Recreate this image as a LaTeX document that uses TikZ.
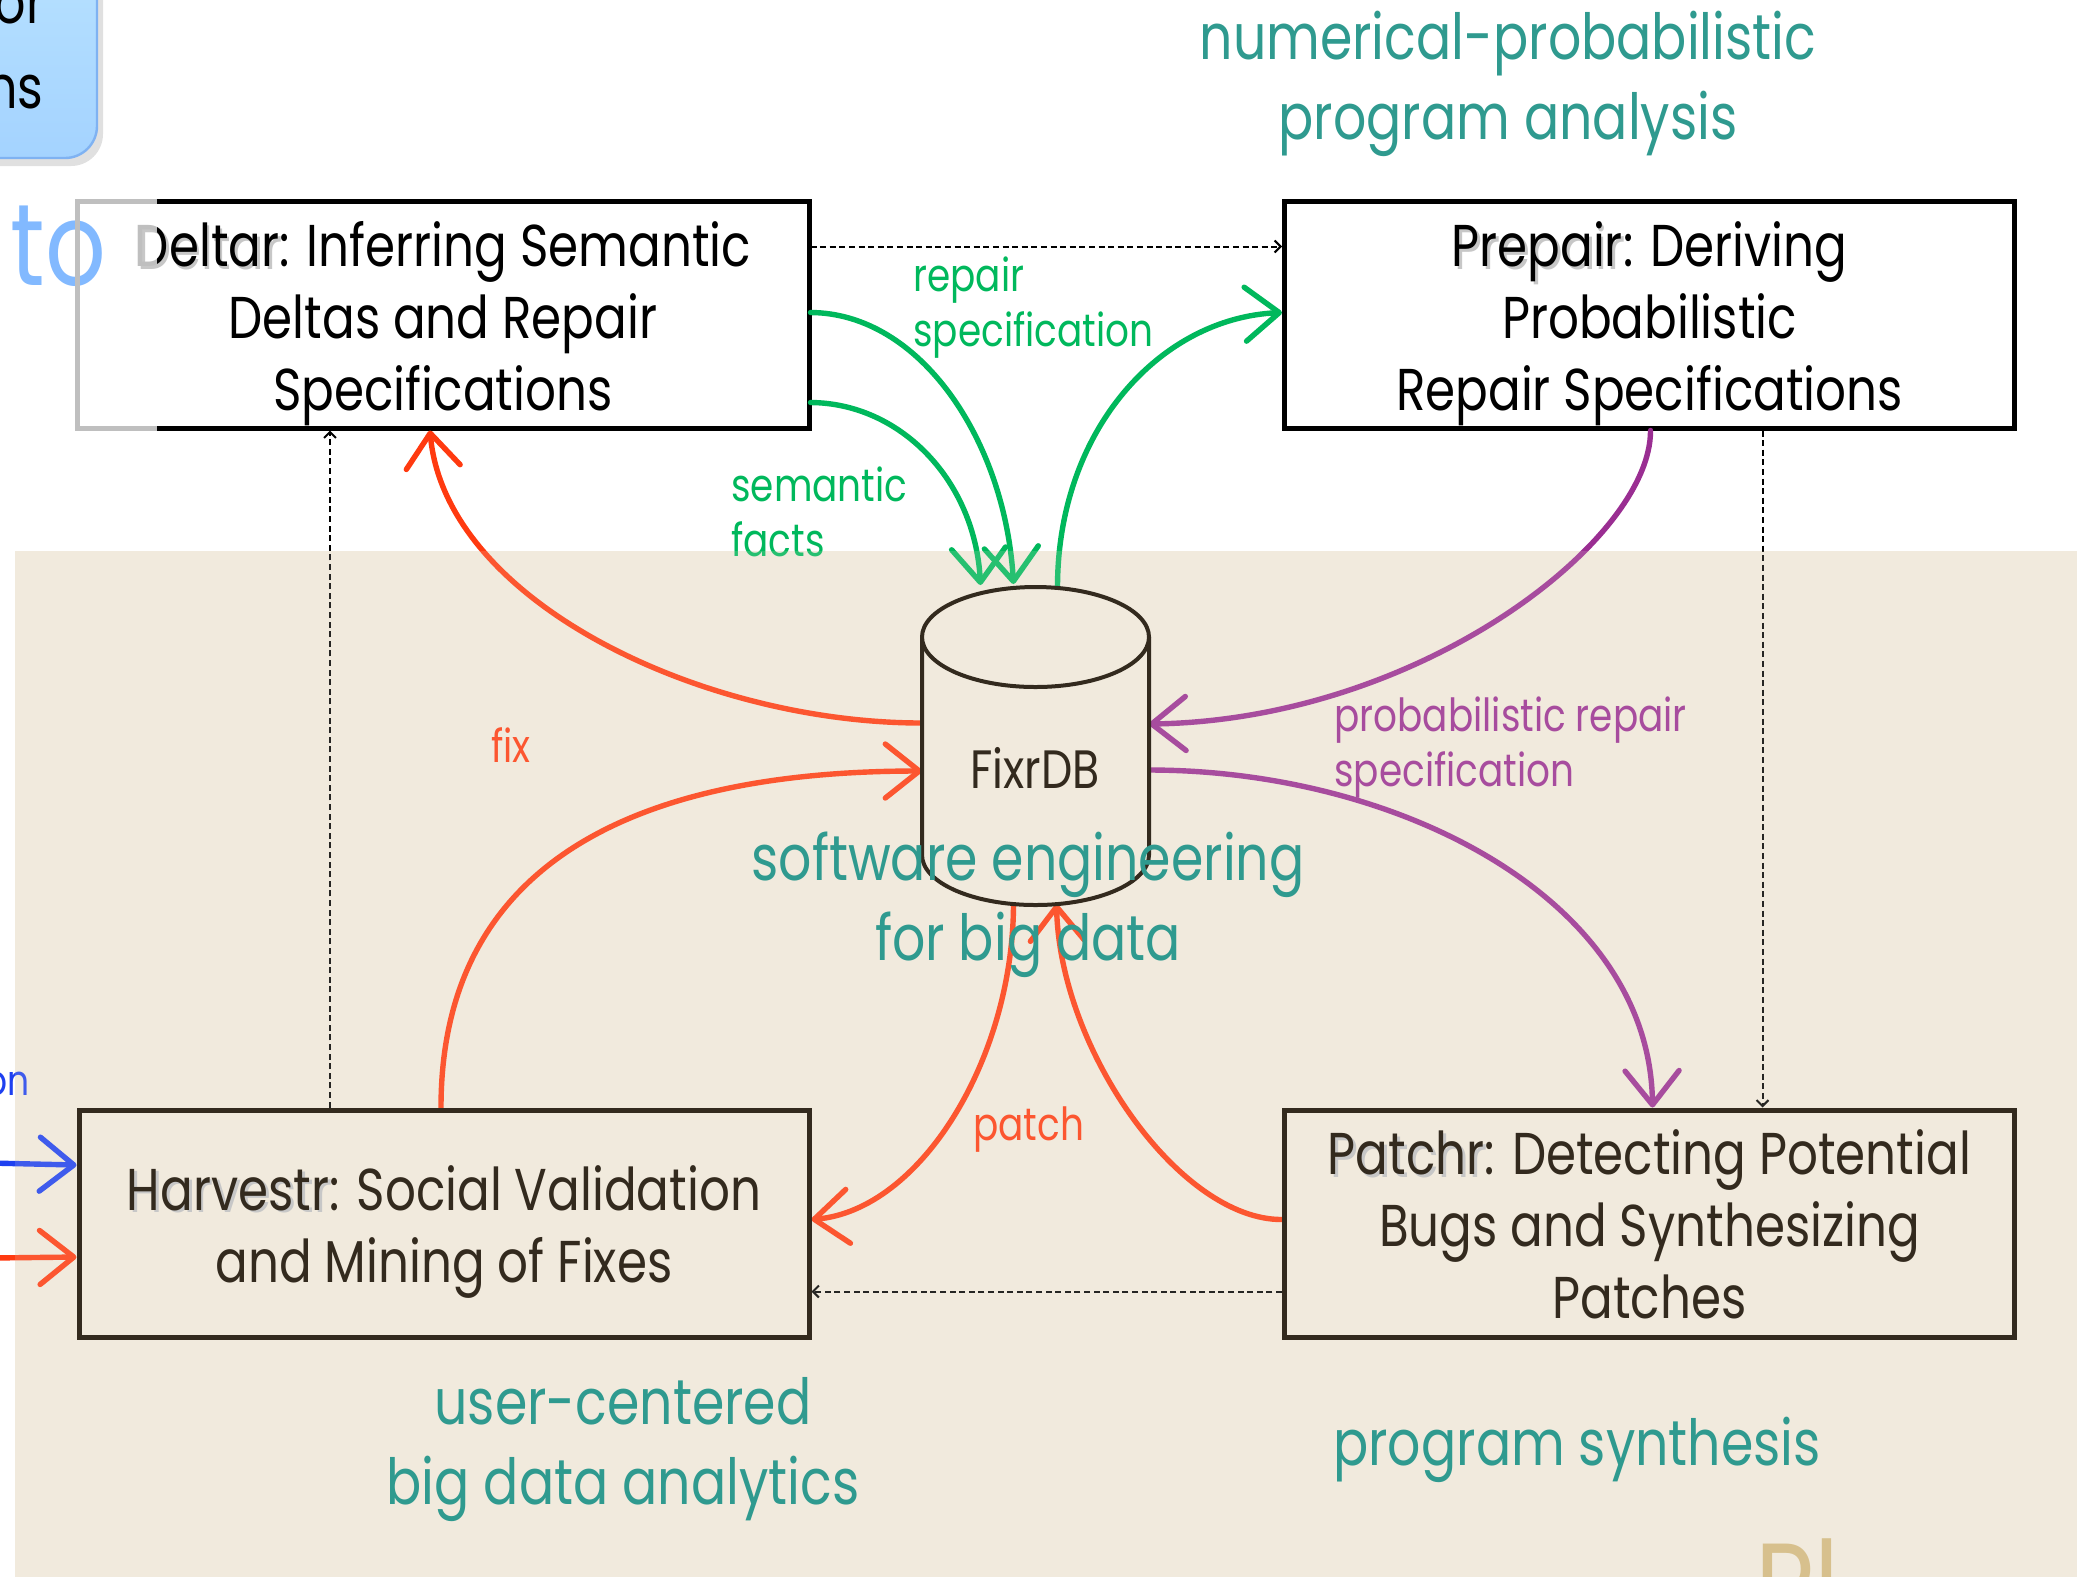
\documentclass[tikz,border=0pt]{standalone}
\usepackage{fontspec}
\setmainfont{Poppins}[FakeStretch=0.82]
\usetikzlibrary{arrows.meta,calc}
\definecolor{sand}{HTML}{F1EADD}
\definecolor{ink}{HTML}{332A1E}
\definecolor{fixred}{HTML}{FF3A10}
\definecolor{factgreen}{HTML}{00B85C}
\definecolor{probpurple}{HTML}{9A2E92}
\definecolor{topicteal}{HTML}{2F9A8F}
\definecolor{skyblue}{HTML}{82B9FF}
\definecolor{tanlabel}{HTML}{D3B97E}
\definecolor{linkblue}{HTML}{1E40F0}
\definecolor{paneltop}{HTML}{BCE5FF}
\definecolor{panelbot}{HTML}{A4D3FF}
\definecolor{paneledge}{HTML}{7FB2F2}
\newcommand\setsz[2]{\fontsize{#1}{#2}\selectfont}
% tool name with a soft drop shadow
\newcommand\toolname[1]{\makebox[0pt][l]{\hspace{1.4pt}\raisebox{-1.4pt}{\textcolor{black!22}{#1}}}#1}
\begin{document}
\begin{tikzpicture}[x=0.5pt,y=-0.5pt,
  box/.style={line width=2.5pt, minimum width=365pt, minimum height=113.5pt, inner sep=0pt},
  boxtext/.style={align=center, font=\setsz{29.5}{36}, inner sep=0pt},
  flow/.style={line width=2.7pt, line cap=round,
    -{Straight Barb[length=17pt,width=27pt,round]}},
  dashlink/.style={line width=1pt, dash pattern=on 3pt off 1.8pt,
    -{Straight Barb[length=3pt,width=6pt]}},
  edgelabel/.style={align=left, anchor=base west, inner sep=0pt, font=\setsz{22.8}{27.5}},
  topic/.style={align=center, anchor=base, text=topicteal, font=\setsz{31.8}{40}},
]
\useasboundingbox (0,0) rectangle (2096,1576);
\clip (0,0) rectangle (2096,1576);
\fill[white] (0,0) rectangle (2096,1576);
\fill[sand] (15,551) rectangle (2077,1600);

% corner of the neighbouring panel
\fill[black!12, rounded corners=16pt] (-100,-100) rectangle (103,166);
\shade[top color=paneltop, bottom color=panelbot, draw=paneledge, line width=1.2pt,
  rounded corners=16pt] (-100,-100) rectangle (97,158);
\node[anchor=base east, inner sep=0pt, font=\setsz{30}{36}] (panelA) at (45,23) {or};
\node[anchor=base east, inner sep=0pt, font=\setsz{30}{36}] (panelB) at (44,108) {ns};
\node[anchor=base west, text=skyblue, font=\setsz{58}{64}, inner sep=0pt] (towd) at (10,285) {to};
\node[anchor=base east, text=linkblue, font=\setsz{21}{27}, inner sep=0pt] (onwd) at (30,1095) {on};
\node[anchor=base west, text=tanlabel, font=\setsz{62}{70}, inner sep=0pt] (plwd) at (1755,1630) {Pl};

% Deltar: grey frame and grey text left of x=157, black from there on
\node[box] (deltar) at (443,314.5) {};
\draw[line width=2.5pt, black!25] (77,201) rectangle (809,428);
\begin{scope}
  \clip (0,0) rectangle (157,1576);
  \node[boxtext, text=black!25] (deltarghost) at ($(deltar.center)+(0,9)$) {\toolname{Deltar}: Inferring Semantic\\Deltas and Repair\\Specifications};
\end{scope}
\begin{scope}
  \clip (157,0) rectangle (2096,1576);
  \node[boxtext, text=black] (deltartext) at ($(deltar.center)+(0,9)$) {\toolname{Deltar}: Inferring Semantic\\Deltas and Repair\\Specifications};
\end{scope}
\draw[line width=2.5pt, black] (157,201) -- (809,201) -- (809,428) -- (157,428);

\node[box, draw=black] (prepair) at (1649.5,314.5) {};
\node[boxtext, text=black] (prepairtext) at ($(prepair.center)+(0,9.5)$) {\toolname{Prepair}: Deriving\\Probabilistic\\Repair Specifications};
\node[box] (harvestr) at (444,1223.5) {};
\node[box] (patchr) at (1649.5,1223.5) {};

% FixrDB anchor frame and ports on the cylinder
\node[minimum width=113.5pt, minimum height=159pt, inner sep=0pt] (db) at (1035.5,746) {};
\coordinate (dbTopA) at ($(db.center)+(-55,-161)$);
\coordinate (dbTopB) at ($(db.center)+(-22,-162)$);
\coordinate (dbTopC) at ($(db.center)+(22,-160)$);
\coordinate (dbLeftA) at ($(db.center)+(-113.5,-23)$);
\coordinate (dbLeftB) at ($(db.center)+(-113.5,25)$);
\coordinate (dbRightA) at ($(db.center)+(113.5,-22)$);
\coordinate (dbRightB) at ($(db.center)+(113.5,24)$);
\coordinate (dbBotA) at ($(db.center)+(-22,158)$);
\coordinate (dbBotB) at ($(db.center)+(21,158)$);

% dashed dependencies
\draw[dashlink, black] ($(deltar.east)+(0,-68)$) -- ($(prepair.west)+(0,-68)$);
\draw[dashlink, black] ($(harvestr.north)+(-114,0)$) -- ($(deltar.south)+(-113,0)$);
\draw[dashlink, black] ($(prepair.south)+(113,0)$) -- ($(patchr.north)+(113,0)$);
\draw[dashlink, black] ($(patchr.west)+(0,68)$) -- ($(harvestr.east)+(0,68)$);

% green flows
\draw[flow, factgreen] ($(deltar.east)+(0,-2)$) .. controls (920,313) and (1005,440) .. (dbTopB);
\draw[flow, factgreen] ($(deltar.east)+(0,88)$) .. controls (900,403) and (975,480) .. (dbTopA);
\draw[flow, factgreen] (dbTopC) .. controls (1058,430) and (1160,318) .. ($(prepair.west)+(0,-2)$);

% purple flows
\draw[flow, probpurple] ($(prepair.south)+(1,0)$) .. controls (1651,540) and (1420,720) .. (dbRightA);
\draw[flow, probpurple] (dbRightB) .. controls (1400,770) and (1650,900) .. ($(patchr.north)+(3,0)$);

% red flows
\draw[flow, fixred] (dbLeftA) .. controls (700,723) and (445,600) .. ($(deltar.south)+(-13,0)$);
\draw[flow, fixred] ($(harvestr.north)+(-3,0)$) .. controls (441,860) and (640,771) .. (dbLeftB);
\draw[flow, fixred] (dbBotA) .. controls (1013,1060) and (920,1210) .. ($(harvestr.east)+(0,-4)$);
\draw[flow, fixred] ($(patchr.west)+(0,-4)$) .. controls (1180,1220) and (1060,1050) .. (dbBotB);

% incoming flows at the left edge
\coordinate (blueIn) at (-10,1163);
\coordinate (redIn) at (-10,1258);
\draw[flow, linkblue] (blueIn) -- ($(harvestr.west)+(0,-58.5)$);
\draw[flow, fixred] (redIn) -- ($(harvestr.west)+(0,33.5)$);

% edge labels (anchored at the baseline of the last line)
\node[edgelabel, text=factgreen] (lblrepair) at (913,346) {repair\\specification};
\node[edgelabel, text=factgreen] (lblfacts) at (731,556) {semantic\\facts};
\node[edgelabel, text=fixred] (lblfix) at (491,762) {fix};
\node[edgelabel, text=probpurple] (lblprob) at (1334,786) {probabilistic repair\\specification};
\node[edgelabel, text=fixred] (lblpatch) at (973,1140) {patch};

% translucent sand layer over the lower band
\fill[sand, opacity=0.16] (15,551) rectangle (2077,1600);

% lower boxes (frames drawn on the node borders)
\draw[ink, line width=2.5pt] ($(harvestr.north west)+(2.5,2.5)$) rectangle ($(harvestr.south east)+(-2.5,-2.5)$);
\node[boxtext, text=ink] (harvestrtext) at ($(harvestr.center)+(0,8)$) {\toolname{Harvestr}: Social Validation\\and Mining of Fixes};
\draw[ink, line width=2.5pt] ($(patchr.north west)+(2.5,2.5)$) rectangle ($(patchr.south east)+(-2.5,-2.5)$);
\node[boxtext, text=ink] (patchrtext) at ($(patchr.center)+(0,1)$) {\toolname{Patchr}: Detecting Potential\\Bugs and Synthesizing\\Patches};

% FixrDB cylinder
\draw[ink, line width=2pt, fill=sand] (922,637) -- (922,855)
  arc[start angle=180, end angle=0, x radius=113.5, y radius=50] -- (1149,637);
\draw[ink, line width=2pt, fill=sand] (1035.5,637) ellipse[x radius=113.5, y radius=50];
\node[anchor=base, text=ink, inner sep=0pt, font=\setsz{27}{30}] (dblabel) at (1035,788) {FixrDB};

% research areas (anchored at the baseline of the last line)
\node[topic] (areaA) at (1508,139) {numerical-probabilistic\\program analysis};
\node[topic] (areaB) at (1028,960) {software engineering\\for big data};
\node[topic] (areaC) at (623,1504) {user-centered\\big data analytics};
\node[topic] (areaD) at (1577,1465) {program synthesis};
\end{tikzpicture}
\end{document}
